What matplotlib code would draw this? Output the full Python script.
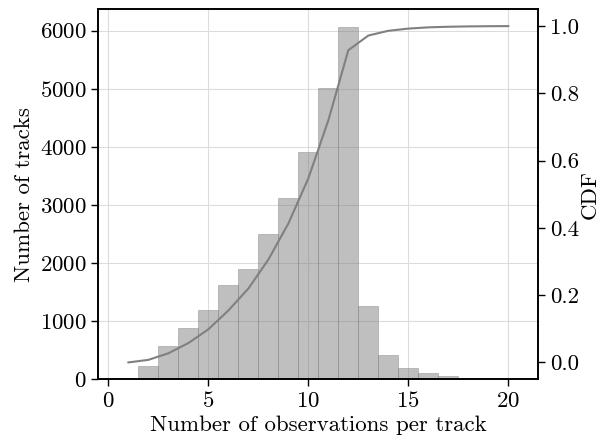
import numpy as np
import matplotlib
matplotlib.use("Agg")
import matplotlib.pyplot as plt

# LaTeX-like look without usetex
plt.rcParams['font.family'] = 'serif'
plt.rcParams['font.serif'] = ['cmr10']
plt.rcParams['mathtext.fontset'] = 'cm'
plt.rcParams['axes.formatter.use_mathtext'] = True
plt.rcParams['axes.unicode_minus'] = False
plt.rcParams['font.size'] = 16.5

# Histogram: number of tracks per number of observations
n_obs = [1, 2, 3, 4, 5, 6, 7, 8, 9, 10, 11, 12, 13, 14, 15, 16, 17, 18, 19, 20]
n_tracks = [0, 220, 570, 880, 1190, 1625, 1895, 2500, 3115, 3905, 5010, 6065,
            1265, 410, 190, 108, 52, 29, 17, 10]

cdf = np.cumsum(n_tracks) / np.sum(n_tracks)

fig, ax = plt.subplots(figsize=(6.11, 4.42), dpi=100)
fig.subplots_adjust(left=0.161, right=0.881, bottom=0.142, top=0.979)

ax.grid(True, color='#dcdcdc', lw=0.8, zorder=0)
ax.set_axisbelow(True)
ax.bar(n_obs, n_tracks, width=1.0, color='gray', alpha=0.5,
       edgecolor='gray', linewidth=0.6, zorder=2)
ax.set_xlabel('Number of observations per track', labelpad=3)
ax.set_ylabel('Number of tracks')
ax.set_xticks([0, 5, 10, 15, 20])
ax.set_yticks([0, 1000, 2000, 3000, 4000, 5000, 6000])

ax2 = ax.twinx()
ax2.plot(n_obs, cdf, color='gray', lw=1.5)
ax2.set_ylabel('CDF', labelpad=1)
ax2.set_yticks([0.0, 0.2, 0.4, 0.6, 0.8, 1.0])
ax2.set_yticklabels(['0.0', '0.2', '0.4', '0.6', '0.8', '1.0'])

for a in (ax, ax2):
    for s in a.spines.values():
        s.set_linewidth(1.2)
    a.tick_params(width=1.0, length=5)

fig.savefig('out.png', dpi=100)
